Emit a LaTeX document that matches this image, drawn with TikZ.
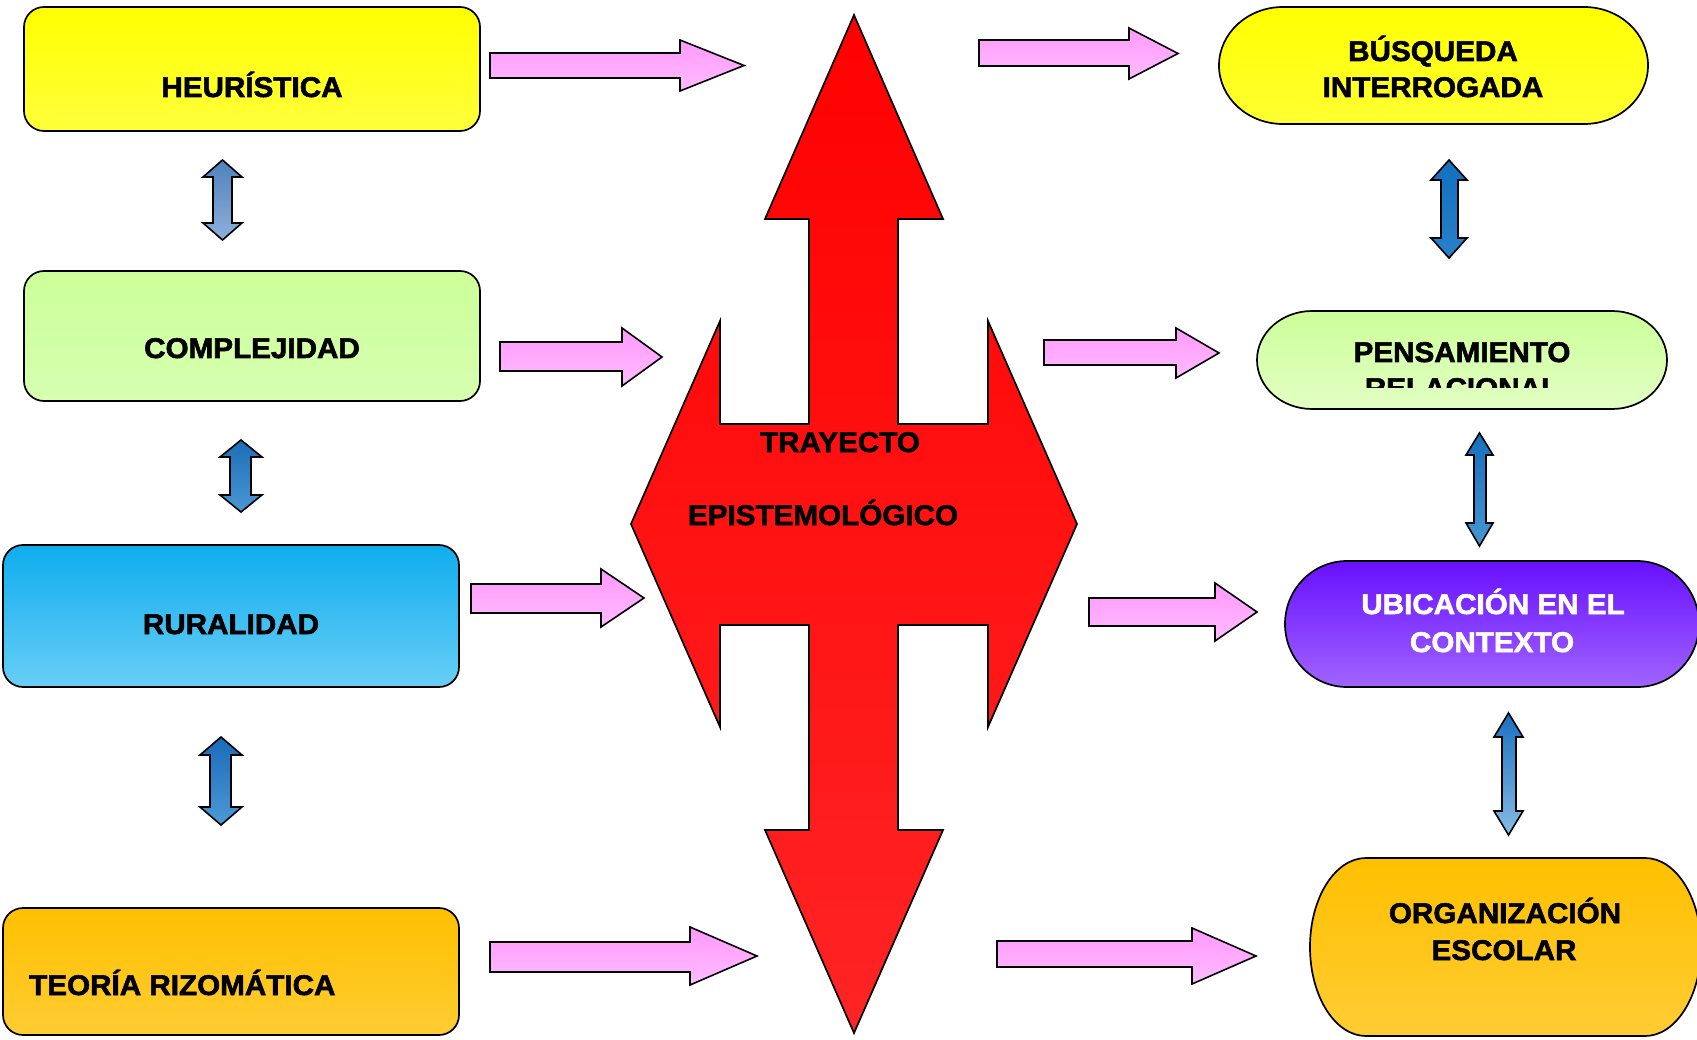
\documentclass[tikz,border=0pt]{standalone}
\usepackage{fontspec}
\newfontfamily\labelfont[FakeStretch=1.04, BoldFeatures={FakeBold=2}]{Liberation Sans}

\definecolor{pinkA}{HTML}{FF99FC}
\definecolor{pinkB}{HTML}{FFBBFF}

% right-pointing block arrow: left x, tip x, head base x, shaft top, shaft bottom, head top, head bottom
\newcommand{\rarrow}[7]{%
  \draw[pinkarr] (#1,#4) -- (#3,#4) -- (#3,#6) -- (#2,{(#6+#7)/2}) -- (#3,#7)
    -- (#3,#5) -- (#1,#5) -- cycle;}
% vertical two-headed block arrow: style, outer left, outer right, shaft left, shaft right,
% top tip, bottom tip, upper head base, lower head base
\newcommand{\vdarrow}[9]{%
  \draw[bluearr,#1] ({(#2+#3)/2},#6) -- (#3,#8) -- (#5,#8) -- (#5,#9) -- (#3,#9)
    -- ({(#2+#3)/2},#7) -- (#2,#9) -- (#4,#9) -- (#4,#8) -- (#2,#8) -- cycle;}
% stadium outline with elliptical ends: style, left, top, right, bottom, end radius
\newcommand{\stadium}[6]{%
  \draw[outline,#1] ({#2+#6},#3) -- ({#4-#6},#3)
    arc[start angle=-90, end angle=90, x radius=#6, y radius={(#5-#3)/2}]
    -- ({#2+#6},#5)
    arc[start angle=90, end angle=270, x radius=#6, y radius={(#5-#3)/2}] -- cycle;}

\tikzset{
  outline/.style={draw=black, line width=1.7pt, line join=miter},
  leftbox/.style={outline, rounded corners=20pt, inner sep=0pt},
  pinkarr/.style={outline, line width=1.6pt, top color=pinkA, bottom color=pinkB},
  bluearr/.style={outline, line width=1.6pt},
  lbl/.style={font=\labelfont\bfseries\fontsize{28.5}{36}\selectfont, inner sep=0pt, anchor=base},
}

\begin{document}
\begin{tikzpicture}[x=1pt, y=-1pt]
\clip (0,0) rectangle (1697,1040);
\fill[white] (0,0) rectangle (1697,1040);

% left column
\node[leftbox, top color={rgb,255:red,255;green,255;blue,0}, bottom color={rgb,255:red,255;green,255;blue,60},
  minimum width=456pt, minimum height=124pt] (heurbox) at (252,69) {};
\node[leftbox, top color={rgb,255:red,204;green,255;blue,153}, bottom color={rgb,255:red,214;green,255;blue,176},
  minimum width=456pt, minimum height=130pt] (compbox) at (252,336) {};
\node[leftbox, top color={rgb,255:red,15;green,173;blue,238}, bottom color={rgb,255:red,104;green,206;blue,246},
  minimum width=456pt, minimum height=142pt] (rurbox) at (231,616) {};
\node[leftbox, top color={rgb,255:red,255;green,192;blue,0}, bottom color={rgb,255:red,255;green,204;blue,51},
  minimum width=456pt, minimum height=127pt] (teobox) at (231,971.5) {};

\node[lbl] (heur) at (252,97) {HEURÍSTICA};
\node[lbl] (comp) at (252,358) {COMPLEJIDAD};
\node[lbl] (rur) at (231,634) {RURALIDAD};
\node[lbl, anchor=base west] (teo) at (29,995) {TEORÍA RIZOMÁTICA};

\vdarrow{top color={rgb,255:red,79;green,129;blue,189}, bottom color={rgb,255:red,142;green,176;blue,218}}
  {203}{242}{213}{232}{160}{240}{177}{223}
\vdarrow{top color={rgb,255:red,28;green,110;blue,184}, bottom color={rgb,255:red,76;green,151;blue,211}}
  {220}{262}{230}{251}{440}{512}{457}{495}
\vdarrow{top color={rgb,255:red,26;green,107;blue,186}, bottom color={rgb,255:red,76;green,154;blue,213}}
  {200}{242}{210}{231}{737}{825}{755}{807}

% central four-way arrow
\draw[outline, top color={rgb,255:red,255;green,0;blue,0}, bottom color={rgb,255:red,255;green,36;blue,36}]
  (631,524) -- (720,321) -- (720,424) -- (809,424) -- (809,219) -- (765,219) -- (854,15)
  -- (943,219) -- (898,219) -- (898,424) -- (988,424) -- (988,321) -- (1077,524)
  -- (988,727) -- (988,625) -- (898,625) -- (898,830) -- (943,830) -- (854,1033)
  -- (765,830) -- (809,830) -- (809,625) -- (720,625) -- (720,727) -- cycle;
\node[lbl] (tray1) at (840,452) {TRAYECTO};
\node[lbl] (tray2) at (823,525) {EPISTEMOLÓGICO};

% pink arrows into and out of the centre
\rarrow{490}{744}{680}{53}{78}{40}{91}
\rarrow{500}{662}{622}{342}{371}{328}{386}
\rarrow{471}{644}{601}{584}{613}{569}{627}
\rarrow{490}{757}{690}{942}{972}{927}{985}
\rarrow{979}{1178}{1129}{40}{66}{28}{79}
\rarrow{1044}{1219}{1176}{340}{365}{328}{378}
\rarrow{1089}{1257}{1215}{598}{626}{583}{641}
\rarrow{997}{1256}{1192}{941}{967}{928}{984}

% right column
\stadium{top color={rgb,255:red,255;green,255;blue,0}, bottom color={rgb,255:red,255;green,255;blue,51}}
  {1219}{7}{1648}{124}{64}
\node[lbl] (busq1) at (1433,61) {BÚSQUEDA};
\node[lbl] (busq2) at (1433,97) {INTERROGADA};

\stadium{top color={rgb,255:red,204;green,255;blue,153}, bottom color={rgb,255:red,226;green,255;blue,196}}
  {1257}{311}{1667}{409}{55}
\begin{scope}
  \clip (1257,311) rectangle (1667,388);
  \node[lbl] (pens1) at (1462,362) {PENSAMIENTO};
  \node[lbl] (pens2) at (1462,398) {RELACIONAL};
\end{scope}

\stadium{top color={rgb,255:red,104;green,16;blue,255}, bottom color={rgb,255:red,160;green,100;blue,255}}
  {1285}{561}{1699}{687}{62}
\node[lbl, text=white] (ubic1) at (1493,614) {UBICACIÓN EN EL};
\node[lbl, text=white] (ubic2) at (1492,652) {CONTEXTO};

\stadium{top color={rgb,255:red,255;green,192;blue,0}, bottom color={rgb,255:red,255;green,204;blue,51}}
  {1310}{858}{1701}{1036}{56}
\node[lbl] (org1) at (1505,923) {ORGANIZACIÓN};
\node[lbl] (org2) at (1504,960) {ESCOLAR};

\vdarrow{top color={rgb,255:red,18;green,112;blue,192}, bottom color={rgb,255:red,40;green,128;blue,200}}
  {1431}{1467}{1441}{1458}{160}{258}{180}{238}
\vdarrow{top color={rgb,255:red,22;green,112;blue,190}, bottom color={rgb,255:red,69;green,150;blue,210}}
  {1466}{1493}{1474}{1486}{433}{546}{455}{523}
\vdarrow{top color={rgb,255:red,28;green,112;blue,191}, bottom color={rgb,255:red,133;green,188;blue,229}}
  {1494}{1523}{1502}{1516}{713}{835}{737}{811}
\end{tikzpicture}
\end{document}
